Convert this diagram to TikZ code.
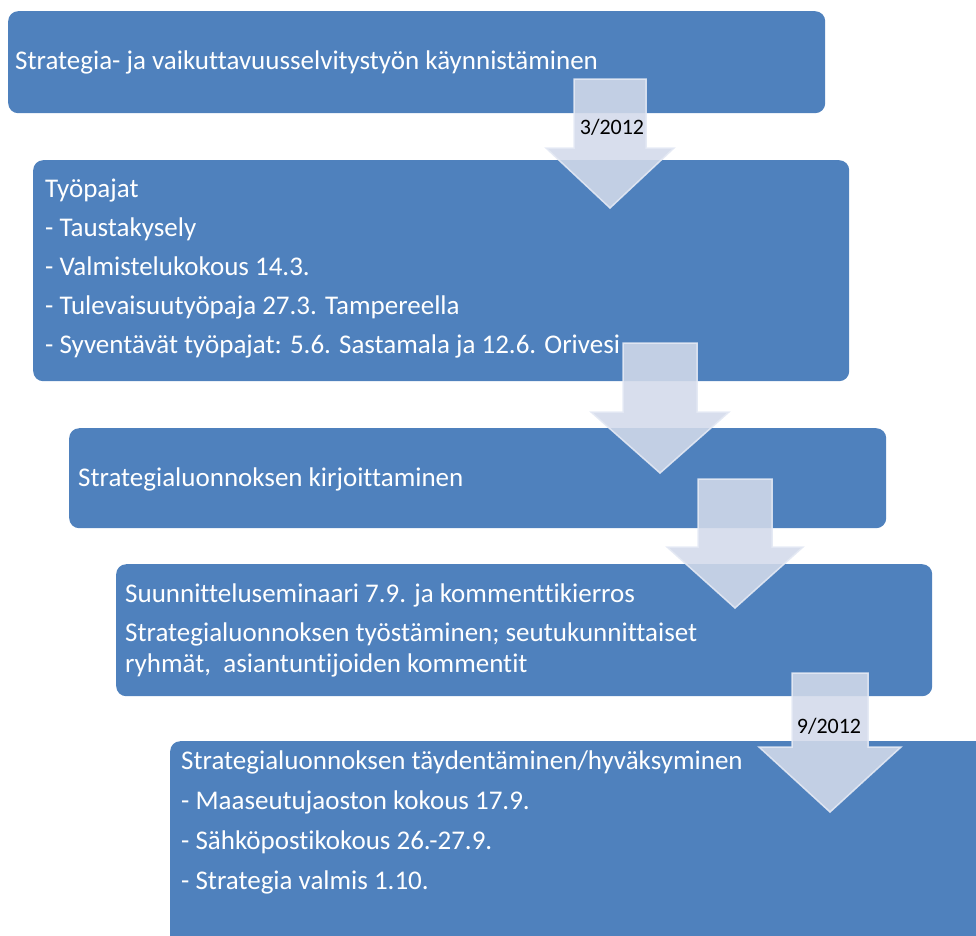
\documentclass[tikz,border=0pt]{standalone}
\usepackage{fontspec}
\setmainfont[Ligatures=NoCommon]{Carlito}
\definecolor{boxblue}{RGB}{79,129,189}
\definecolor{arrowfill}{RGB}{211,218,234}
\definecolor{arrowline}{RGB}{228,233,244}
\tikzset{
  box/.style={fill=boxblue, rounded corners=10pt, anchor=north west, inner sep=0pt, draw=none},
  boxtext/.style={text=white, font=\fontsize{27}{39}\selectfont, anchor=base west, inner sep=0pt},
  flowarrow/.style={fill=arrowfill, fill opacity=0.88, draw=arrowline, draw opacity=0.9, line width=1.5pt, line join=miter},
  datelabel/.style={font=\fontsize{22}{26}\selectfont, text=black, inner sep=0pt}
}
\newcommand\downflow[6]{% cx, shaft half, head half, top, neck, tip
  \draw[flowarrow] ({#1-#2},#4) -- ({#1+#2},#4) -- ({#1+#2},#5) -- ({#1+#3},#5) -- (#1,#6) -- ({#1-#3},#5) -- ({#1-#2},#5) -- cycle;}
\begin{document}
\begin{tikzpicture}[x=1pt,y=-1pt]
\useasboundingbox (0,0) rectangle (976,935);
\clip (0,0) rectangle (976,935);
% boxes
\node[box, minimum width=817pt, minimum height=102pt] (b1) at (8,11) {};
\node[box, minimum width=816pt, minimum height=221pt] (b2) at (33,160) {};
\node[box, minimum width=817pt, minimum height=100pt] (b3) at (69,428) {};
\node[box, minimum width=816pt, minimum height=132pt] (b4) at (116,564) {};
\node[box, minimum width=840pt, minimum height=230pt] (b5) at (170,741) {};
% texts
\node[boxtext] (t1) at (15,69) {Strategia- ja vaikuttavuusselvitystyön käynnistäminen};
\node[boxtext] (t2a) at (45,197) {Työpajat};
\node[boxtext] (t2b) at (45,236) {- Taustakysely};
\node[boxtext] (t2c) at (45,275) {- Valmistelukokous 14.3.};
\node[boxtext] (t2d) at (45,314) {- Tulevaisuutyöpaja 27.3. Tampereella};
\node[boxtext] (t2e) at (45,353) {- Syventävät työpajat: 5.6. Sastamala ja 12.6. Orivesi};
\node[boxtext] (t3) at (78,486) {Strategialuonnoksen kirjoittaminen};
\node[boxtext] (t4a) at (125,602) {Suunnitteluseminaari 7.9. ja kommenttikierros};
\node[boxtext] (t4b) at (125,641) {Strategialuonnoksen työstäminen; seutukunnittaiset};
\node[boxtext] (t4c) at (125,672) {ryhmät,\ \ asiantuntijoiden kommentit};
\node[boxtext] (t5a) at (181,769) {Strategialuonnoksen täydentäminen/hyväksyminen};
\node[boxtext] (t5b) at (181,809) {- Maaseutujaoston kokous 17.9.};
\node[boxtext] (t5c) at (181,849) {- Sähköpostikokous 26.-27.9.};
\node[boxtext] (t5d) at (181,889) {- Strategia valmis 1.10.};
% arrows
\downflow{610}{36}{64}{79}{148}{208}
\downflow{660}{37}{69}{343}{412}{473}
\downflow{735}{37}{68}{479}{547}{608}
\downflow{830}{38}{71}{673}{747}{812}
\node[datelabel] (d1) at (612,127) {3/2012};
\node[datelabel] (d2) at (829,726) {9/2012};
\end{tikzpicture}
\end{document}
